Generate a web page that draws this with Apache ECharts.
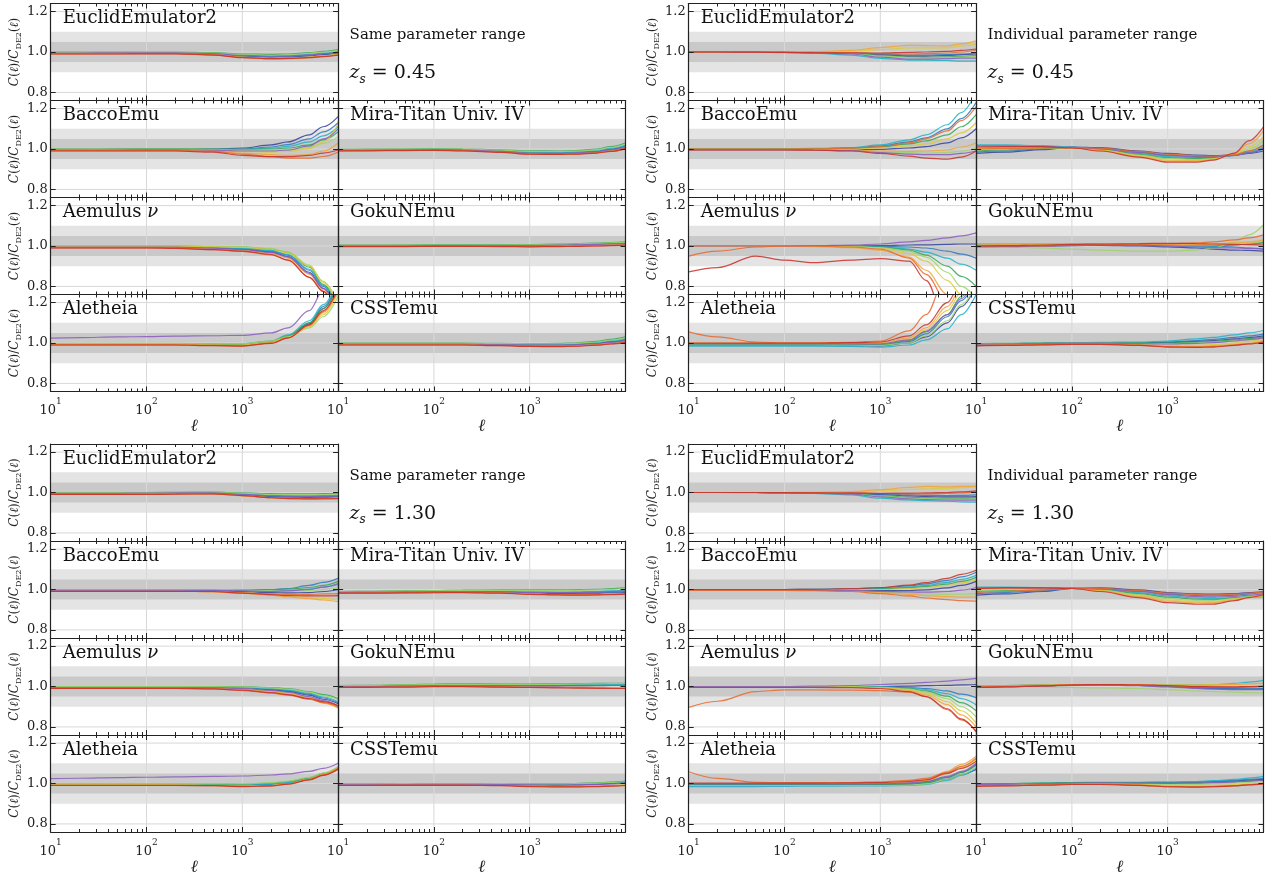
<!DOCTYPE html>
<html><head><meta charset="utf-8">
<script src="https://cdn.jsdelivr.net/npm/echarts@6/dist/echarts.min.js"></script>
<style>html,body{margin:0;padding:0;background:#fff}#c{width:1275px;height:880px}</style>
</head><body><div id="c"></div>
<script>
// ---------------- data ----------------
const ELL = [10,20,50,100,200,500,1000,2000,3000,5000,7000,10000];
const X_MAJOR = [10,100,1000,10000];
const X_MINOR = [20,30,40,50,60,70,80,90,200,300,400,500,600,700,800,900,2000,3000,4000,5000,6000,7000,8000,9000];
const X_LABELS = [10,100,1000];
const X_GRID = [100,1000];
const Y_TICKS = [0.8,1.0,1.2];
const BAND_OUTER = [0.9,1.1];
const BAND_INNER = [0.95,1.05];
const RANGE_LABELS = ['Same parameter range','Individual parameter range'];
const ZS_LABELS = ['0.45','1.30'];
const PANEL_NAMES = ['EuclidEmulator2','BaccoEmu','Aemulus ν','Aletheia','Mira-Titan Univ. IV','GokuNEmu','CSSTemu'];

// ---- Same parameter range, z_s = 0.45 ----
const TL_EUCLID = [
 [.994,.994,.995,.995,.995,.990,.979,.975,.976,.981,.987,.995],
 [.995,.995,.996,.996,.996,.991,.981,.977,.978,.984,.990,.998],
 [.996,.996,.997,.997,.997,.993,.984,.980,.982,.988,.995,1.003],
 [1.0,1.0,1.0,1.0,1.0,.997,.990,.988,.990,.997,1.003,1.012],
 [.998,.998,.998,.999,.999,.995,.987,.984,.986,.993,1.0,1.008],
 [.993,.993,.994,.994,.994,.988,.975,.969,.970,.975,.981,.988],
 [.992,.992,.993,.993,.993,.987,.973,.965,.966,.972,.979,.987],
 [.995,.995,.996,.996,.996,.992,.983,.979,.980,.986,.992,1.0],
 [.991,.991,.991,.992,.992,.986,.973,.967,.968,.973,.979,.986],
 [.990,.990,.990,.991,.991,.985,.972,.967,.968,.972,.977,.984]];
const TL_BACCO = [
 [.998,.998,.999,1.0,1.0,1.0,1.005,1.02,1.035,1.07,1.11,1.16],
 [.997,.997,.998,.999,.999,.999,1.0,1.01,1.022,1.05,1.085,1.13],
 [.996,.996,.997,.998,.998,.997,.997,1.004,1.013,1.035,1.065,1.11],
 [1.0,1.0,1.0,1.001,1.001,1.0,.998,1.0,1.005,1.02,1.045,1.085],
 [.999,.999,.999,1.0,1.0,.998,.994,.994,.996,1.008,1.028,1.06],
 [.994,.994,.994,.995,.995,.993,.988,.985,.988,1.003,1.035,1.125],
 [.993,.993,.993,.993,.993,.99,.98,.972,.968,.972,.99,1.03],
 [.995,.995,.995,.996,.996,.994,.99,.99,.995,1.015,1.05,1.10],
 [.992,.992,.992,.992,.992,.988,.975,.962,.955,.955,.963,.985],
 [.99,.99,.99,.99,.99,.985,.968,.962,.962,.968,.98,.995]];
const TL_AEMULUS = [
 [.995,.995,.995,.995,.995,.99,.984,.97,.948,.87,.79,.67],
 [.996,.996,.996,.996,.996,.992,.987,.975,.955,.88,.8,.68],
 [.997,.997,.997,.997,.997,.993,.989,.978,.958,.885,.805,.69],
 [.999,.999,.999,.999,.999,.997,.994,.985,.968,.895,.81,.70],
 [1.0,1.0,1.0,1.0,1.0,.998,.996,.988,.97,.905,.825,.72],
 [.998,.998,.998,.998,.998,.996,.993,.984,.965,.9,.82,.71],
 [.993,.993,.993,.993,.992,.986,.979,.963,.94,.86,.785,.66],
 [.994,.994,.994,.994,.994,.989,.982,.968,.945,.865,.79,.67],
 [.991,.991,.991,.991,.99,.982,.973,.956,.93,.845,.775,.65],
 [.99,.99,.99,.99,.988,.982,.975,.958,.93,.845,.775,.65]];
const TL_ALETHEIA = [
 [.994,.994,.994,.994,.994,.992,.99,1.004,1.03,1.095,1.17,1.29],
 [.995,.995,.995,.995,.995,.993,.992,1.006,1.033,1.1,1.18,1.3],
 [.997,.997,.997,.997,.997,.995,.996,1.01,1.04,1.11,1.19,1.31],
 [.996,.996,.996,.996,.996,.993,.993,1.008,1.035,1.1,1.17,1.28],
 [.998,.998,.998,.998,.998,.996,.997,1.009,1.032,1.075,1.13,1.23],
 [.993,.993,.993,.993,.993,.99,.99,1.003,1.028,1.08,1.14,1.25],
 [.992,.992,.992,.992,.992,.988,.987,1.0,1.025,1.085,1.15,1.26],
 [1.024,1.027,1.03,1.032,1.034,1.036,1.038,1.05,1.075,1.16,1.26,1.4],
 [.991,.991,.991,.991,.991,.988,.986,.999,1.025,1.088,1.155,1.265],
 [.99,.99,.99,.99,.99,.987,.985,.998,1.025,1.09,1.16,1.27]];
const TL_MIRA = [
 [.994,.995,.996,.997,.996,.989,.980,.979,.981,.987,.997,1.012],
 [.995,.996,.997,.998,.997,.990,.982,.981,.983,.990,1.0,1.016],
 [.996,.997,.998,.999,.998,.992,.985,.984,.986,.993,1.004,1.02],
 [.998,.999,1.0,1.001,1.0,.996,.991,.99,.992,1.0,1.012,1.03],
 [.997,.998,.999,1.0,.999,.994,.988,.987,.989,.996,1.008,1.025],
 [.993,.994,.995,.996,.995,.987,.978,.976,.978,.984,.993,1.008],
 [.992,.993,.994,.995,.993,.985,.976,.974,.976,.982,.99,1.005],
 [.994,.995,.996,.997,.996,.988,.979,.978,.980,.986,.995,1.01],
 [.991,.992,.993,.994,.992,.984,.975,.973,.975,.981,.989,1.003],
 [.99,.991,.992,.993,.991,.983,.974,.973,.975,.98,.988,1.002]];
const TL_GOKU = [
 [1.0,1.0,1.001,1.002,1.002,1.002,1.003,1.005,1.007,1.009,1.011,1.013],
 [1.001,1.001,1.002,1.003,1.003,1.003,1.004,1.006,1.008,1.01,1.012,1.015],
 [1.002,1.002,1.003,1.004,1.004,1.004,1.005,1.007,1.009,1.012,1.014,1.017],
 [1.004,1.004,1.005,1.006,1.006,1.006,1.007,1.009,1.011,1.014,1.017,1.02],
 [1.003,1.003,1.004,1.005,1.005,1.005,1.006,1.008,1.01,1.013,1.016,1.019],
 [1.0,1.0,1.0,1.001,1.001,1.0,1.0,1.001,1.003,1.005,1.007,1.009],
 [.999,.999,.999,1.0,1.0,.999,.999,1.0,1.001,1.003,1.005,1.007],
 [1.001,1.001,1.001,1.002,1.002,1.002,1.002,1.004,1.006,1.008,1.01,1.012],
 [.998,.998,.998,.999,.999,.998,.997,.998,.999,1.001,1.003,1.005],
 [.997,.997,.997,.998,.998,.997,.996,.997,.998,1.0,1.002,1.004]];
const TL_CSST = [
 [.995,.995,.995,.995,.995,.993,.99,.99,.992,.998,1.005,1.015],
 [.996,.996,.996,.996,.996,.994,.992,.992,.994,1.0,1.008,1.018],
 [.997,.997,.997,.997,.997,.995,.994,.994,.996,1.003,1.012,1.022],
 [.999,.999,.999,.999,.999,.998,.997,.998,1.0,1.008,1.018,1.03],
 [.998,.998,.998,.998,.998,.997,.996,.996,.998,1.005,1.014,1.025],
 [.993,.993,.993,.993,.993,.99,.987,.986,.988,.994,1.0,1.01],
 [.992,.992,.992,.992,.992,.989,.985,.984,.986,.992,.998,1.007],
 [.995,.995,.995,.995,.995,.992,.989,.989,.991,.997,1.003,1.012],
 [.991,.991,.991,.991,.991,.988,.984,.983,.985,.99,.996,1.005],
 [.99,.99,.99,.99,.99,.987,.983,.982,.984,.989,.995,1.003]];

// ---- Individual parameter range, z_s = 0.45 ----
const TR_EUCLID = [
 [.999,.999,.999,.998,.997,.995,.987,.98,.98,.983,.987,.99],
 [.999,.999,.999,.998,.998,.996,.99,.985,.985,.987,.99,.995],
 [1.0,1.0,.999,.997,.994,.985,.968,.96,.96,.958,.955,.955],
 [1.0,1.0,.999,.998,.996,.994,.983,.975,.974,.976,.978,.982],
 [1.0,1.0,1.0,.999,.997,.993,.98,.972,.97,.972,.975,.978],
 [1.0,1.0,1.0,1.0,1.0,1.004,1.012,1.02,1.02,1.02,1.03,1.04],
 [1.0,1.0,1.0,1.0,1.001,1.008,1.022,1.033,1.032,1.03,1.04,1.055],
 [1.0,1.0,.999,.998,.996,.99,.975,.965,.965,.967,.97,.97],
 [1.0,1.0,1.0,.999,.998,.997,.992,.99,.992,.995,1.0,1.01],
 [1.0,1.0,.999,.998,.997,.995,.995,.998,1.0,1.003,1.008,1.015]];
const TR_BACCO = [
 [.998,.998,.998,.998,.997,.996,.998,1.005,1.012,1.03,1.055,1.1],
 [1.0,1.0,1.0,1.0,1.002,1.005,1.015,1.035,1.055,1.1,1.15,1.23],
 [1.0,1.0,1.0,1.001,1.003,1.007,1.02,1.045,1.07,1.12,1.18,1.28],
 [1.0,1.0,1.0,1.0,1.0,1.003,1.01,1.025,1.04,1.07,1.11,1.17],
 [.997,.997,.997,.997,.996,.994,.987,.982,.98,.982,.99,1.005],
 [.999,.999,.999,.999,.999,1.0,1.005,1.015,1.025,1.05,1.08,1.13],
 [.997,.997,.997,.997,.996,.995,.99,.988,.99,.995,1.01,1.03],
 [.996,.996,.996,.996,.995,.992,.982,.975,.972,.972,.978,.99],
 [1.0,1.0,1.0,1.0,1.001,1.004,1.012,1.03,1.05,1.09,1.14,1.21],
 [.995,.995,.995,.995,.994,.99,.978,.965,.955,.95,.96,.99]];
const TR_AEMULUS = [
 [1.0,1.0,1.0,1.0,1.0,1.0,1.002,1.005,1.006,1.008,1.01,1.01],
 [1.0,1.0,1.0,1.0,1.0,.999,.998,.995,.99,.975,.96,.94],
 [1.0,1.0,1.0,1.0,1.0,.998,.996,.985,.97,.94,.91,.88],
 [1.0,1.0,1.0,1.0,1.0,.998,.994,.98,.955,.9,.85,.8],
 [1.0,1.0,1.0,1.0,1.0,.997,.992,.975,.945,.87,.8,.74],
 [1.0,1.0,1.0,1.0,.999,.996,.99,.962,.925,.83,.76,.7],
 [.998,.998,.998,.998,.997,.992,.98,.945,.88,.76,.68,.6],
 [1.0,1.0,1.0,1.0,1.002,1.005,1.01,1.02,1.028,1.04,1.05,1.065],
 [.95,.975,.995,1.0,1.0,.995,.985,.94,.86,.72,.65,.6],
 [.872,.893,.95,.93,.918,.93,.938,.925,.83,.6,.5,.4]];
const TR_ALETHEIA = [
 [.988,.988,.988,.988,.988,.987,.986,1.0,1.03,1.1,1.18,1.28],
 [.992,.992,.992,.992,.992,.991,.99,1.008,1.045,1.13,1.21,1.31],
 [.985,.985,.985,.985,.985,.983,.98,.99,1.015,1.07,1.14,1.24],
 [.995,.995,.995,.995,.995,.993,.992,1.012,1.055,1.14,1.23,1.33],
 [.99,.99,.99,.99,.99,.989,.988,1.0,1.035,1.11,1.19,1.29],
 [.998,.998,.998,.998,.998,.998,.998,1.018,1.065,1.16,1.25,1.35],
 [1.0,1.0,1.0,1.0,1.0,1.0,1.002,1.025,1.075,1.18,1.27,1.38],
 [.997,.997,.997,.997,.997,.996,.996,1.015,1.058,1.14,1.22,1.32],
 [1.055,1.03,1.005,1.0,1.0,1.003,1.01,1.06,1.14,1.35,1.5,1.6],
 [1.0,1.0,1.0,1.0,1.0,1.002,1.005,1.035,1.09,1.2,1.3,1.4]];
const TR_MIRA = [
 [.978,.985,.997,1.01,1.007,.99,.978,.97,.967,.97,.978,.99],
 [.985,.99,1.0,1.008,1.003,.985,.97,.963,.962,.968,.98,1.0],
 [1.02,1.02,1.017,1.01,1.0,.978,.962,.957,.958,.968,.985,1.01],
 [.99,.995,1.003,1.006,.998,.973,.957,.952,.955,.97,.99,1.02],
 [.995,1.0,1.005,1.005,.996,.97,.952,.948,.953,.972,1.0,1.04],
 [1.0,1.005,1.008,1.005,.994,.967,.945,.943,.95,.975,1.01,1.06],
 [1.005,1.008,1.01,1.005,.992,.963,.94,.94,.948,.978,1.025,1.09],
 [1.015,1.015,1.012,1.008,1.0,.982,.968,.96,.96,.968,.982,1.005],
 [1.0,1.003,1.006,1.007,1.004,.988,.975,.967,.965,.972,.99,1.02],
 [1.01,1.012,1.012,1.005,.99,.96,.935,.935,.945,.98,1.04,1.11]];
const TR_GOKU = [
 [.998,.998,1.0,1.002,1.003,1.0,.996,.99,.985,.98,.978,.975],
 [1.0,1.0,1.002,1.005,1.007,1.006,1.003,1.0,.998,.995,.99,.985],
 [1.01,1.01,1.01,1.01,1.008,1.005,1.002,1.0,1.0,1.005,1.01,1.02],
 [1.002,1.004,1.006,1.008,1.008,1.005,1.003,1.002,1.003,1.006,1.01,1.015],
 [.995,.995,.99,.985,.98,.975,.975,.98,.99,1.02,1.055,1.105],
 [1.0,1.003,1.007,1.01,1.01,1.008,1.006,1.005,1.006,1.01,1.015,1.025],
 [1.005,1.007,1.01,1.012,1.012,1.01,1.008,1.008,1.01,1.015,1.02,1.03],
 [.995,.997,1.0,1.003,1.005,1.003,1.0,.995,.992,.99,.988,.985],
 [1.0,1.0,1.0,1.005,1.007,1.008,1.01,1.015,1.02,1.03,1.04,1.055],
 [1.0,1.002,1.005,1.008,1.01,1.012,1.013,1.012,1.01,1.008,1.007,1.005]];
const TR_CSST = [
 [.993,.995,.997,.999,1.0,1.001,1.003,1.008,1.012,1.02,1.027,1.035],
 [.995,.997,.999,1.0,1.001,1.002,1.005,1.012,1.018,1.028,1.035,1.045],
 [.995,.997,1.0,1.002,1.003,1.005,1.01,1.02,1.028,1.04,1.05,1.062],
 [.997,.998,.999,1.0,1.0,1.0,1.0,1.004,1.008,1.015,1.022,1.03],
 [.996,.997,.998,.999,.999,.998,.997,1.0,1.004,1.01,1.016,1.022],
 [.99,.992,.995,.997,.997,.993,.988,.988,.992,1.0,1.008,1.018],
 [.988,.99,.993,.995,.995,.99,.983,.982,.985,.993,1.0,1.01],
 [.994,.996,.998,.999,.999,.997,.995,.998,1.002,1.01,1.017,1.025],
 [.987,.989,.992,.994,.994,.989,.982,.98,.983,.99,.997,1.007],
 [.986,.988,.991,.993,.993,.988,.98,.978,.98,.988,.995,1.005]];

// ---- Same parameter range, z_s = 1.30 ----
const BL_EUCLID = [
 [.994,.994,.994,.995,.996,.996,.989,.98,.977,.976,.977,.979],
 [.995,.995,.995,.996,.997,.997,.99,.982,.98,.979,.98,.982],
 [.997,.997,.997,.998,.999,.999,.993,.986,.984,.984,.985,.987],
 [1.0,1.0,1.0,1.0,1.001,1.002,.998,.994,.993,.993,.994,.996],
 [.999,.999,.999,.999,1.0,1.001,.996,.99,.989,.989,.99,.992],
 [.992,.992,.992,.993,.994,.994,.985,.974,.97,.968,.969,.97],
 [.992,.992,.992,.993,.994,.994,.985,.975,.971,.969,.97,.971],
 [.996,.996,.996,.997,.998,.998,.991,.984,.982,.981,.982,.984],
 [.991,.991,.991,.992,.993,.993,.985,.975,.971,.969,.97,.971],
 [.99,.99,.99,.99,.992,.993,.985,.974,.97,.968,.969,.97]];
const BL_BACCO = [
 [.994,.994,.994,.994,.994,.993,.99,.985,.983,.985,.99,1.0],
 [.995,.995,.995,.995,.996,.997,.995,.998,1.005,1.02,1.035,1.055],
 [.997,.997,.997,.997,.997,.997,.996,.994,.995,1.002,1.012,1.025],
 [.998,.998,.998,.998,.999,1.0,1.0,1.0,1.002,1.01,1.02,1.04],
 [.999,.999,.999,.999,1.0,1.0,.998,.994,.992,.995,1.0,1.01],
 [.993,.993,.993,.993,.993,.99,.985,.975,.968,.96,.955,.948],
 [.992,.992,.992,.992,.992,.988,.982,.972,.963,.955,.948,.94],
 [.996,.996,.996,.996,.996,.996,.993,.99,.993,1.0,1.012,1.03],
 [.991,.991,.991,.991,.991,.989,.983,.978,.975,.975,.978,.98],
 [.99,.99,.99,.99,.99,.99,.982,.975,.97,.968,.968,.97]];
const BL_AEMULUS = [
 [.996,.996,.996,.996,.996,.995,.992,.984,.976,.957,.937,.915],
 [.997,.997,.997,.997,.997,.996,.994,.987,.98,.962,.943,.92],
 [.998,.998,.998,.998,.998,.997,.996,.99,.983,.966,.948,.925],
 [1.0,1.0,1.0,1.0,1.0,1.0,.999,.995,.99,.975,.96,.94],
 [.999,.999,.999,.999,.999,.999,.998,.993,.987,.972,.955,.935],
 [.994,.994,.994,.994,.994,.993,.988,.978,.968,.945,.92,.893],
 [.992,.992,.992,.992,.992,.991,.985,.974,.964,.942,.918,.895],
 [.995,.995,.995,.995,.995,.994,.99,.981,.972,.95,.93,.905],
 [.99,.99,.99,.99,.99,.988,.98,.968,.957,.937,.92,.9],
 [.99,.99,.99,.99,.99,.988,.982,.97,.96,.94,.925,.905]];
const BL_ALETHEIA = [
 [.994,.994,.994,.994,.994,.993,.99,.992,1.0,1.02,1.042,1.072],
 [.995,.995,.995,.995,.995,.994,.992,.994,1.002,1.022,1.045,1.075],
 [.997,.997,.997,.997,.997,.996,.995,.997,1.005,1.025,1.048,1.078],
 [.998,.998,.998,.998,.998,.997,.996,1.002,1.01,1.028,1.05,1.08],
 [1.0,1.0,1.0,1.0,1.0,.999,.998,1.004,1.012,1.03,1.052,1.083],
 [.993,.993,.993,.993,.993,.991,.988,.99,.998,1.02,1.045,1.078],
 [.992,.992,.992,.992,.992,.99,.987,.989,.997,1.02,1.045,1.08],
 [1.024,1.026,1.029,1.031,1.033,1.035,1.037,1.042,1.048,1.06,1.075,1.1],
 [.991,.991,.991,.991,.991,.989,.986,.988,.997,1.019,1.043,1.075],
 [.99,.99,.99,.99,.99,.989,.985,.988,.997,1.018,1.04,1.07]];
const BL_MIRA = [
 [.984,.985,.986,.987,.988,.986,.982,.98,.98,.981,.983,.985],
 [.985,.986,.987,.988,.989,.988,.985,.983,.983,.985,.987,.99],
 [.987,.988,.989,.99,.991,.99,.988,.987,.988,.99,.993,.996],
 [.99,.991,.993,.995,.997,.998,.998,.998,.999,1.001,1.004,1.008],
 [.989,.99,.992,.994,.996,.996,.995,.995,.996,.998,1.001,1.005],
 [.983,.984,.985,.986,.987,.984,.978,.975,.975,.976,.978,.98],
 [.983,.984,.985,.986,.987,.984,.978,.975,.974,.975,.977,.979],
 [.986,.987,.988,.989,.99,.989,.986,.985,.985,.987,.99,.993],
 [.982,.983,.984,.985,.986,.983,.977,.974,.973,.974,.976,.978],
 [.982,.982,.983,.984,.985,.982,.976,.973,.972,.973,.975,.977]];
const BL_GOKU = [
 [1.0,1.001,1.003,1.005,1.005,1.004,1.004,1.005,1.006,1.007,1.008,1.008],
 [1.001,1.002,1.004,1.006,1.006,1.005,1.005,1.006,1.007,1.008,1.009,1.01],
 [1.002,1.003,1.005,1.008,1.008,1.007,1.007,1.008,1.009,1.01,1.011,1.012],
 [1.005,1.006,1.009,1.012,1.013,1.012,1.012,1.013,1.014,1.015,1.016,1.016],
 [1.004,1.005,1.008,1.011,1.011,1.01,1.01,1.011,1.012,1.013,1.014,1.014],
 [.998,.999,1.0,1.002,1.002,1.0,.999,.998,.997,.996,.995,.994],
 [.997,.998,.999,1.001,1.001,.999,.997,.996,.995,.994,.993,.992],
 [1.0,1.0,1.002,1.004,1.004,1.003,1.002,1.002,1.003,1.004,1.005,1.005],
 [.996,.997,.998,1.0,1.0,.998,.996,.995,.994,.993,.992,.991],
 [.995,.996,.997,.999,.999,.997,.995,.993,.992,.991,.99,.99]];
const BL_CSST = [
 [.994,.994,.995,.995,.995,.995,.993,.992,.993,.996,1.0,1.004],
 [.995,.995,.996,.996,.996,.996,.994,.994,.995,.998,1.002,1.006],
 [.996,.996,.997,.997,.997,.997,.996,.996,.997,1.0,1.004,1.008],
 [.999,.999,1.0,1.0,1.0,1.0,.999,.999,1.0,1.003,1.007,1.012],
 [.998,.998,.999,.999,.999,.999,.998,.998,.999,1.002,1.005,1.01],
 [.992,.992,.993,.993,.993,.992,.988,.986,.986,.988,.99,.993],
 [.992,.992,.992,.993,.993,.991,.987,.985,.985,.987,.989,.992],
 [.995,.995,.995,.996,.996,.995,.993,.992,.993,.995,.998,1.002],
 [.991,.991,.992,.992,.992,.99,.986,.984,.984,.986,.988,.99],
 [.99,.99,.991,.991,.991,.989,.985,.983,.983,.985,.987,.99]];

// ---- Individual parameter range, z_s = 1.30 ----
const BR_EUCLID = [
 [1.0,1.0,1.0,.999,.998,.996,.99,.983,.98,.978,.978,.98],
 [1.0,1.0,1.0,.999,.998,.997,.993,.988,.986,.985,.986,.988],
 [1.0,1.0,.999,.998,.995,.988,.972,.963,.96,.957,.954,.952],
 [1.0,1.0,1.0,.999,.997,.994,.985,.976,.973,.972,.972,.973],
 [1.0,1.0,1.0,.999,.997,.993,.982,.972,.968,.966,.966,.967],
 [1.0,1.0,1.0,1.0,1.0,1.003,1.008,1.015,1.018,1.02,1.024,1.028],
 [1.0,1.0,1.0,1.0,1.001,1.005,1.014,1.025,1.03,1.028,1.03,1.032],
 [1.0,1.0,1.0,.999,.997,.992,.978,.968,.965,.963,.962,.962],
 [1.0,1.0,1.0,1.0,.999,.998,.995,.993,.993,.995,.998,1.002],
 [1.0,1.0,1.0,.999,.998,.997,.996,.997,.998,1.0,1.003,1.008]];
const BR_BACCO = [
 [.998,.998,.998,.998,.997,.996,.994,.995,.998,1.008,1.02,1.04],
 [1.0,1.0,1.0,1.0,1.001,1.003,1.008,1.018,1.028,1.045,1.062,1.085],
 [1.0,1.0,1.0,1.0,1.001,1.002,1.005,1.012,1.02,1.035,1.05,1.07],
 [.999,.999,.999,.999,.999,1.0,1.003,1.008,1.015,1.027,1.04,1.06],
 [.997,.997,.997,.997,.996,.994,.988,.982,.978,.976,.977,.98],
 [.999,.999,.999,.999,.999,.999,1.0,1.004,1.01,1.02,1.032,1.05],
 [.996,.996,.996,.996,.995,.992,.985,.976,.97,.965,.962,.962],
 [.997,.997,.997,.997,.996,.995,.991,.988,.987,.99,.997,1.01],
 [.996,.996,.996,.995,.994,.99,.98,.968,.958,.95,.945,.942],
 [1.0,1.0,1.0,1.0,1.001,1.004,1.01,1.022,1.034,1.055,1.075,1.095]];
const BR_AEMULUS = [
 [1.0,1.0,1.0,1.0,1.0,1.0,1.0,1.002,1.004,1.006,1.008,1.01],
 [1.0,1.0,1.0,1.0,1.0,1.0,.999,.995,.99,.978,.962,.945],
 [1.0,1.0,1.0,1.0,1.0,1.0,.998,.993,.985,.965,.94,.91],
 [1.0,1.0,1.0,1.0,1.0,.999,.997,.99,.978,.952,.92,.88],
 [1.0,1.0,1.0,1.0,1.0,.999,.996,.987,.972,.94,.9,.85],
 [.998,.998,.998,.998,.998,.997,.995,.984,.965,.925,.88,.82],
 [.997,.997,.997,.997,.997,.996,.993,.98,.958,.91,.86,.8],
 [1.0,1.0,1.0,1.0,1.002,1.005,1.01,1.015,1.02,1.027,1.033,1.04],
 [.897,.927,.975,.983,.983,.982,.98,.972,.95,.885,.835,.78],
 [.995,.995,.995,.995,.995,.994,.99,.975,.95,.89,.84,.775]];
const BR_ALETHEIA = [
 [.993,.993,.993,.993,.993,.993,.994,.997,1.003,1.02,1.045,1.07],
 [.997,.997,.997,.997,.997,.997,.998,1.002,1.01,1.03,1.055,1.09],
 [.985,.985,.985,.986,.987,.988,.988,.99,.996,1.015,1.04,1.075],
 [.995,.995,.995,.995,.995,.995,.995,.998,1.005,1.03,1.055,1.095],
 [.99,.99,.99,.99,.99,.99,.99,.992,.998,1.02,1.045,1.085],
 [1.0,1.0,1.0,1.0,1.0,1.0,1.002,1.006,1.013,1.05,1.08,1.12],
 [1.0,1.0,1.0,1.0,1.0,1.001,1.003,1.008,1.016,1.06,1.095,1.135],
 [.998,.998,.998,.998,.998,.998,.999,1.003,1.01,1.035,1.06,1.1],
 [1.058,1.025,1.006,1.004,1.004,1.005,1.008,1.015,1.025,1.055,1.085,1.125],
 [1.002,1.002,1.002,1.002,1.002,1.003,1.005,1.01,1.018,1.05,1.075,1.11]];
const BR_MIRA = [
 [.972,.978,.99,1.006,1.008,.998,.985,.978,.977,.98,.985,.99],
 [.98,.985,.993,1.005,1.005,.992,.978,.97,.968,.972,.978,.985],
 [1.012,1.012,1.01,1.008,1.002,.985,.968,.958,.955,.96,.965,.97],
 [.99,.995,1.0,1.005,.999,.98,.962,.952,.95,.957,.962,.965],
 [.995,.999,1.003,1.005,.997,.975,.955,.946,.946,.955,.963,.968],
 [1.0,1.004,1.006,1.005,.995,.97,.948,.94,.94,.952,.962,.97],
 [1.003,1.006,1.007,1.005,.993,.965,.942,.934,.935,.948,.96,.972],
 [1.008,1.009,1.008,1.006,1.003,.99,.975,.965,.962,.966,.972,.98],
 [.985,.99,.998,1.006,1.006,.995,.982,.975,.973,.977,.982,.988],
 [1.005,1.008,1.008,1.005,.99,.96,.935,.927,.928,.945,.96,.975]];
const BR_GOKU = [
 [.997,1.0,1.004,1.008,1.009,1.006,1.0,.993,.99,.988,.987,.988],
 [.998,1.0,1.003,1.007,1.008,1.006,1.002,.995,.99,.988,.988,.99],
 [1.0,1.002,1.005,1.008,1.01,1.01,1.008,1.008,1.01,1.015,1.022,1.03],
 [1.003,1.005,1.008,1.01,1.01,1.007,1.003,.998,.995,.995,.997,1.0],
 [1.0,1.0,.998,.996,.993,.99,.985,.978,.975,.972,.97,.968],
 [1.0,1.003,1.006,1.01,1.011,1.01,1.008,1.008,1.01,1.012,1.014,1.015],
 [1.002,1.004,1.007,1.01,1.01,1.008,1.006,1.005,1.006,1.01,1.013,1.017],
 [.996,.998,1.002,1.006,1.007,1.004,.998,.99,.987,.985,.985,.985],
 [.999,1.001,1.004,1.008,1.009,1.007,1.004,1.0,.998,.997,.998,1.0],
 [.995,.998,1.003,1.008,1.01,1.008,1.005,1.0,.998,.998,1.0,1.002]];
const BR_CSST = [
 [.995,.997,1.0,1.002,1.003,1.003,1.003,1.005,1.008,1.012,1.016,1.02],
 [.996,.998,1.001,1.004,1.005,1.005,1.006,1.008,1.011,1.016,1.02,1.025],
 [.997,.999,1.002,1.005,1.006,1.006,1.007,1.01,1.014,1.02,1.027,1.035],
 [.998,1.0,1.002,1.004,1.004,1.003,1.002,1.003,1.005,1.008,1.012,1.016],
 [.993,.995,.998,1.0,1.0,.998,.996,.996,.998,1.002,1.006,1.01],
 [.99,.992,.995,.998,.998,.995,.99,.988,.99,.994,.998,1.003],
 [.988,.99,.994,.997,.997,.993,.986,.984,.986,.99,.995,1.0],
 [.994,.996,.999,1.002,1.003,1.002,1.001,1.002,1.004,1.008,1.012,1.016],
 [.987,.989,.993,.996,.996,.992,.985,.983,.985,.989,.994,.999],
 [.986,.988,.992,.995,.995,.991,.984,.982,.984,.988,.993,.998]];

// ---------------- layout / style ----------------
const SERIF = "'DejaVu Serif', 'Liberation Serif', serif";
const PALETTE = ['#34419c','#2b78c2','#1fb0c8','#35a655','#9dd46a','#dac93a','#f3a23a','#8a5cc0','#e8692c','#c8302a'];
const INK = '#222';
const Q_X = [0, 638];
const Q_Y = [3.5, 444];
const COL_LEFT = [50.7, 338.1];
const COL_W = 287.4;
const ROW_H = 97;

const QUADS = [
  {qx:0, qy:0, rl:0, zs:0, panels:[[0,0,0,TL_EUCLID],[0,1,1,TL_BACCO],[0,2,2,TL_AEMULUS],[0,3,3,TL_ALETHEIA],[1,1,4,TL_MIRA],[1,2,5,TL_GOKU],[1,3,6,TL_CSST]]},
  {qx:1, qy:0, rl:1, zs:0, panels:[[0,0,0,TR_EUCLID],[0,1,1,TR_BACCO],[0,2,2,TR_AEMULUS],[0,3,3,TR_ALETHEIA],[1,1,4,TR_MIRA],[1,2,5,TR_GOKU],[1,3,6,TR_CSST]]},
  {qx:0, qy:1, rl:0, zs:1, panels:[[0,0,0,BL_EUCLID],[0,1,1,BL_BACCO],[0,2,2,BL_AEMULUS],[0,3,3,BL_ALETHEIA],[1,1,4,BL_MIRA],[1,2,5,BL_GOKU],[1,3,6,BL_CSST]]},
  {qx:1, qy:1, rl:1, zs:1, panels:[[0,0,0,BR_EUCLID],[0,1,1,BR_BACCO],[0,2,2,BR_AEMULUS],[0,3,3,BR_ALETHEIA],[1,1,4,BR_MIRA],[1,2,5,BR_GOKU],[1,3,6,BR_CSST]]}
];

const grids = [], xAxes = [], yAxes = [], series = [], graphics = [];
const frameLine = {show:true, lineStyle:{color:INK, width:1.2}};

function bgRender(params, api) {
  const a = api.coord([10, BAND_OUTER[1]]), b = api.coord([10000, BAND_OUTER[0]]);
  const c = api.coord([10, BAND_INNER[1]]), d = api.coord([10000, BAND_INNER[0]]);
  const ch = [
    {type:'rect', shape:{x:a[0], y:a[1], width:b[0]-a[0], height:b[1]-a[1]}, style:{fill:'#e4e4e4'}},
    {type:'rect', shape:{x:c[0], y:c[1], width:d[0]-c[0], height:d[1]-c[1]}, style:{fill:'#c9c9c9'}}
  ];
  Y_TICKS.forEach(v => {
    const p = api.coord([10, v]), q = api.coord([10000, v]);
    ch.push({type:'line', shape:{x1:p[0], y1:p[1], x2:q[0], y2:q[1]}, style:{stroke:'#d8d8d8', lineWidth:1}});
  });
  X_GRID.forEach(v => {
    const p = api.coord([v, 0.76]), q = api.coord([v, 1.24]);
    ch.push({type:'line', shape:{x1:p[0], y1:p[1], x2:q[0], y2:q[1]}, style:{stroke:'#d8d8d8', lineWidth:1}});
  });
  return {type:'group', children: ch};
}

const supRich = {
  b:{fontFamily:SERIF, fontSize:13, color:INK, lineHeight:20, verticalAlign:'bottom'},
  s:{fontFamily:SERIF, fontSize:9, color:INK, lineHeight:9, verticalAlign:'top'}
};
const yNameRich = {
  i:{fontFamily:SERIF, fontStyle:'italic', fontSize:12, color:INK, lineHeight:16},
  n:{fontFamily:SERIF, fontSize:12, color:INK, lineHeight:16},
  s:{fontFamily:SERIF, fontSize:8, color:INK, lineHeight:8, verticalAlign:'bottom'}
};

function addPanel(q, col, row, nameIdx, curves) {
  const gi = grids.length;
  const left = Q_X[q.qx] + COL_LEFT[col];
  const top = Q_Y[q.qy] + row * ROW_H;
  grids.push({left:left, top:top, width:COL_W, height:ROW_H, containLabel:false});
  const bottomRow = row === 3;
  const xb = xAxes.length;
  const baseX = {type:'log', logBase:10, min:10, max:10000, gridIndex:gi, splitLine:{show:false}, z:3};
  xAxes.push(Object.assign({}, baseX, {
    position:'bottom', axisLine:frameLine,
    axisTick:{show:true, inside:true, length:5, customValues:X_MAJOR, lineStyle:{color:INK, width:1}},
    axisLabel:{show:bottomRow, customValues:X_LABELS, margin:6,
      formatter: v => '{b|10}{s|' + Math.round(Math.log10(v)) + '}', rich:supRich},
    name: bottomRow ? 'ℓ' : '', nameLocation:'middle', nameGap:25,
    nameTextStyle:{fontFamily:SERIF, fontStyle:'italic', fontSize:17, color:INK}
  }));
  xAxes.push(Object.assign({}, baseX, {
    position:'bottom', axisLine:{show:false},
    axisTick:{show:true, inside:true, length:3, customValues:X_MINOR, lineStyle:{color:INK, width:1}},
    axisLabel:{show:false}
  }));
  xAxes.push(Object.assign({}, baseX, {
    position:'top', axisLine:frameLine,
    axisTick:{show:true, inside:true, length:5, customValues:X_MAJOR, lineStyle:{color:INK, width:1}},
    axisLabel:{show:false}
  }));
  xAxes.push(Object.assign({}, baseX, {
    position:'top', axisLine:{show:false},
    axisTick:{show:true, inside:true, length:3, customValues:X_MINOR, lineStyle:{color:INK, width:1}},
    axisLabel:{show:false}
  }));
  const yl = yAxes.length;
  const baseY = {type:'value', min:0.76, max:1.24, gridIndex:gi, splitLine:{show:false}, z:3};
  yAxes.push(Object.assign({}, baseY, {
    position:'left', axisLine:frameLine,
    axisTick:{show:true, inside:true, length:5, customValues:Y_TICKS, lineStyle:{color:INK, width:1}},
    axisLabel:{show:col === 0, customValues:Y_TICKS, margin:3, formatter: v => v.toFixed(1),
      fontFamily:SERIF, fontSize:13, color:INK},
    name: col === 0 ? '{i|C}{n|(}{i|ℓ}{n|)/}{i|C}{s|DE2}{n|(}{i|ℓ}{n|)}' : '',
    nameLocation:'middle', nameRotate:90, nameGap:23,
    nameTextStyle:{rich:yNameRich}
  }));
  yAxes.push(Object.assign({}, baseY, {
    position:'right', axisLine:frameLine,
    axisTick:{show:true, inside:true, length:5, customValues:Y_TICKS, lineStyle:{color:INK, width:1}},
    axisLabel:{show:false}
  }));
  series.push({type:'custom', xAxisIndex:xb, yAxisIndex:yl, z:1, silent:true, clip:true,
    data:[[100, 1]], renderItem:bgRender});
  curves.forEach((c, i) => {
    series.push({type:'line', xAxisIndex:xb, yAxisIndex:yl, z:2, silent:true, clip:true,
      data: ELL.map((l, k) => [l, c[k]]), showSymbol:false, symbol:'none',
      smooth:0.35, smoothMonotone:'x',
      lineStyle:{width:1.2, color:PALETTE[i % PALETTE.length], opacity:0.85}});
  });
  const nm = PANEL_NAMES[nameIdx];
  const isNu = nm.endsWith('ν');
  graphics.push({type:'text', x:left + 12, y:top + 15, z:10, silent:true,
    style:{text: isNu ? '{n|Aemulus }{i|ν}' : '{n|' + nm + '}',
      rich:{n:{fontFamily:SERIF, fontSize:18, fill:'#111'}, i:{fontFamily:SERIF, fontStyle:'italic', fontSize:18, fill:'#111'}},
      verticalAlign:'middle', align:'left'}});
}

QUADS.forEach(q => {
  q.panels.forEach(p => addPanel(q, p[0], p[1], p[2], p[3]));
  const tx = Q_X[q.qx] + COL_LEFT[1] + 11.5;
  const ty = Q_Y[q.qy];
  graphics.push({type:'text', x:tx, y:ty + 32, silent:true,
    style:{text:RANGE_LABELS[q.rl], font:"15px " + SERIF, fill:'#111', verticalAlign:'middle', align:'left'}});
  graphics.push({type:'text', x:tx, y:ty + 70, silent:true,
    style:{text:'{i|z}{s|s}{n| = ' + ZS_LABELS[q.zs] + '}',
      rich:{i:{fontFamily:SERIF, fontStyle:'italic', fontSize:19, fill:'#111', lineHeight:24},
            s:{fontFamily:SERIF, fontStyle:'italic', fontSize:12, fill:'#111', lineHeight:12, verticalAlign:'bottom'},
            n:{fontFamily:SERIF, fontSize:19, fill:'#111', lineHeight:24}},
      verticalAlign:'middle', align:'left'}});
});

const chart = echarts.init(document.getElementById('c'), null, {renderer:'canvas'});
chart.setOption({
  animation:false,
  backgroundColor:'#ffffff',
  grid:grids, xAxis:xAxes, yAxis:yAxes, series:series, graphic:graphics
});
</script>
</body></html>
